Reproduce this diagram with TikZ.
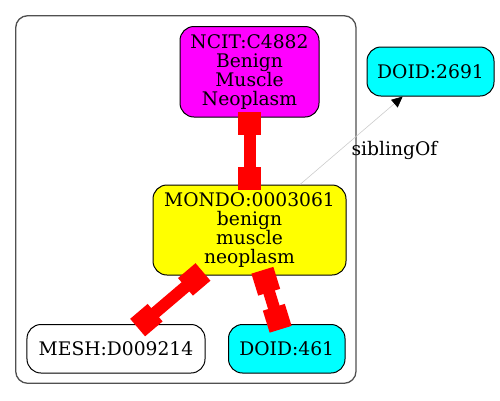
\documentclass[tikz,border=0pt]{standalone}
\usepackage{fontspec}
\setmainfont{DejaVu Serif}
\usetikzlibrary{arrows.meta,calc}
\definecolor{gvmagenta}{RGB}{255,0,255}
\definecolor{gvyellow}{RGB}{255,255,0}
\definecolor{gvcyan}{RGB}{0,255,255}
\definecolor{gvred}{RGB}{255,0,0}
\definecolor{gvgray}{RGB}{80,80,80}
\newcommand\redlink[2]{%
  \draw[redline] (#1) -- (#2);
  \draw[redbox] ($(#1)!-5.5bp!(#2)$) -- ($(#1)!17.5bp!(#2)$);
  \draw[redbox] ($(#2)!-5.5bp!(#1)$) -- ($(#2)!17.5bp!(#1)$);}
\begin{document}
\begin{tikzpicture}[x=1bp,y=-1bp,
  gnode/.style={draw=black, line width=1bp, rounded corners=14bp, inner sep=0pt, align=center, font=\fontsize{18.7bp}{19bp}\selectfont},
  cluster/.style={draw=gvgray, line width=1.3bp, rounded corners=12bp, inner sep=0pt},
  redline/.style={draw=gvred, line width=12bp},
  redbox/.style={draw=gvred, line width=23bp},
  sib/.style={draw=black!20, line width=0.6bp, -{Triangle[length=11bp,width=10bp,color=black]}},
  lbl/.style={font=\fontsize{18.7bp}{19bp}\selectfont, inner sep=0pt}]
\useasboundingbox (0,0) rectangle (500,400);
\node[cluster, minimum width=340.3bp, minimum height=367.6bp] (cl) at (185.85,199.5) {};
\node[gnode, fill=gvmagenta, minimum width=139bp, minimum height=90.5bp] (ncit) at (249.5,71.75) {NCIT:C4882\\Benign\\Muscle\\Neoplasm};
\node[gnode, fill=gvyellow, minimum width=193bp, minimum height=90bp] (mondo) at (249.5,230) {MONDO:0003061\\benign\\muscle\\neoplasm};
\node[gnode, fill=white, minimum width=178bp, minimum height=48.5bp] (mesh) at (116,348.75) {MESH:D009214};
\node[gnode, fill=gvcyan, minimum width=116.5bp, minimum height=48.5bp] (d461) at (286.75,348.75) {DOID:461};
\node[gnode, fill=gvcyan, minimum width=127bp, minimum height=49bp] (d2691) at (430.5,71.5) {DOID:2691};
\coordinate (e2a) at ($(mondo.south)+(-50.7,0)$);
\coordinate (e2b) at ($(mesh.north)+(25.8,0)$);
\coordinate (e3a) at ($(mondo.south)+(14.5,0)$);
\coordinate (e3b) at ($(d461.north)+(-7.75,0)$);
\coordinate (s1) at ($(mondo.north)+(50.5,0)$);
\coordinate (s2) at ($(d2691.south)+(-27.8,0)$);
\redlink{ncit.south}{mondo.north}
\redlink{e2a}{e2b}
\redlink{e3a}{e3b}
\draw[sib] (s1) -- (s2);
\node[lbl, anchor=base] (sibl) at (394.5,155) {siblingOf};
\end{tikzpicture}
\end{document}
